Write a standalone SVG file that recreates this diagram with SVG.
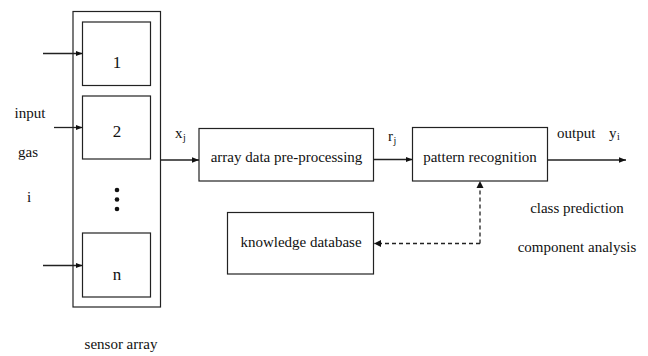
<svg xmlns="http://www.w3.org/2000/svg" width="648" height="356" viewBox="0 0 648 356" font-family="'Liberation Serif', 'Times New Roman', Times, serif">
  <defs>
    <style>
      .box { fill: #fff; stroke: #222; stroke-width: 1.2; }
      .line { fill: none; stroke: #222; stroke-width: 1.3; }
      .dash { fill: none; stroke: #222; stroke-width: 1.3; stroke-dasharray: 4 3; }
      text { fill: #111; font-size: 15px; }
      .mid { text-anchor: middle; }
      .num { font-size: 17px; }
      .sub { font-size: 10px; }
    </style>
    <marker id="arrow" viewBox="0 0 10 10" refX="10" refY="5" markerWidth="7" markerHeight="7" markerUnits="userSpaceOnUse" orient="auto">
      <path d="M0,1 L10,5 L0,9 Z" fill="#111"/>
    </marker>
  </defs>

  <rect width="648" height="356" fill="#fff"/>

  <!-- sensor array -->
  <g id="sensor-array">
    <rect class="box" x="73" y="11.5" width="87.5" height="295.5"/>
    <text class="mid" x="121" y="349">sensor array</text>
  </g>
  <g id="sensor-1">
    <rect class="box" x="82.5" y="22" width="68" height="63.5"/>
    <text class="mid num" x="117" y="67.5">1</text>
  </g>
  <g id="sensor-2">
    <rect class="box" x="82.5" y="96" width="68" height="63"/>
    <text class="mid num" x="117" y="136.5">2</text>
  </g>
  <g id="sensor-dots">
    <circle cx="117" cy="190" r="2.3" fill="#111"/>
    <circle cx="117" cy="199.5" r="2.3" fill="#111"/>
    <circle cx="117" cy="209" r="2.3" fill="#111"/>
  </g>
  <g id="sensor-n">
    <rect class="box" x="82.5" y="233" width="68" height="64"/>
    <text class="mid num" x="117" y="280">n</text>
  </g>

  <!-- input labels -->
  <g id="input-label">
    <text class="mid" x="30" y="118">input</text>
    <text class="mid" x="28" y="157">gas</text>
    <text class="mid" x="29" y="202">i</text>
  </g>

  <!-- processing blocks -->
  <g id="pre-processing">
    <rect class="box" x="199" y="128.5" width="174.5" height="52.5"/>
    <text class="mid" x="286.5" y="162">array data pre-processing</text>
  </g>
  <g id="pattern-recognition">
    <rect class="box" x="412.5" y="127.5" width="135" height="53.5"/>
    <text class="mid" x="480" y="162">pattern recognition</text>
  </g>
  <g id="knowledge-database">
    <rect class="box" x="227.5" y="212.5" width="146" height="61.5"/>
    <text class="mid" x="301" y="247">knowledge database</text>
  </g>

  <!-- output labels -->
  <g id="output-labels">
    <text x="557" y="138">output</text>
    <text x="609" y="138">y<tspan class="sub" dx="0.5" dy="2">i</tspan></text>
    <text class="mid" x="577" y="213">class prediction</text>
    <text class="mid" x="577" y="252">component analysis</text>
  </g>

  <!-- connectors -->
  <g id="connectors">
    <line class="line" x1="43" y1="53.5" x2="82.5" y2="53.5" marker-end="url(#arrow)"/>
    <line class="line" x1="54" y1="127.5" x2="82.5" y2="127.5" marker-end="url(#arrow)"/>
    <line class="line" x1="43" y1="265.5" x2="82.5" y2="265.5" marker-end="url(#arrow)"/>
    <line class="line" x1="160.5" y1="160" x2="199" y2="160" marker-end="url(#arrow)"/>
    <text x="175" y="138">x<tspan class="sub" dx="0.5" dy="3">j</tspan></text>
    <line class="line" x1="373.5" y1="159.5" x2="412.5" y2="159.5" marker-end="url(#arrow)"/>
    <text x="388" y="141">r<tspan class="sub" dx="0.5" dy="3">j</tspan></text>
    <line class="line" x1="547.5" y1="160" x2="626" y2="160" marker-end="url(#arrow)"/>
    <polyline class="dash" points="480,243.5 480,182"/>
    <polyline class="dash" points="480,243.5 374.5,243.5"/>
    <path d="M480,181 L476.5,188 L483.5,188 Z" fill="#111"/>
    <path d="M374,243.5 L381,240 L381,247 Z" fill="#111"/>
  </g>
</svg>
